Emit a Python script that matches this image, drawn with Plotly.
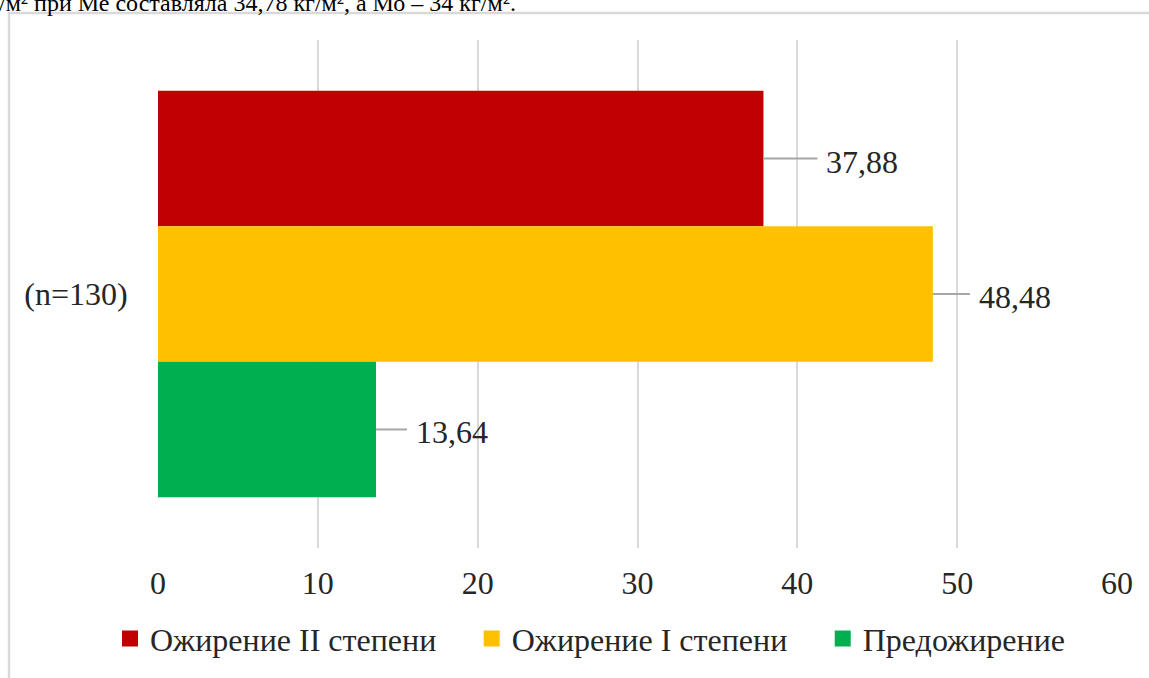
import plotly.graph_objects as go

categories = ["(n=130)"]
series_names = ["Ожирение II степени", "Ожирение I степени", "Предожирение"]
series_values = [37.88, 48.48, 13.64]
series_labels = ["37,88", "48,48", "13,64"]
series_colors = ["#C00000", "#FFC000", "#00B050"]
x_ticks = [0, 10, 20, 30, 40, 50, 60]
top_text = "/м² при Ме составляла 34,78 кг/м², а Мо – 34 кг/м²."

# leader line lengths (px) for each label (manually placed labels)
leader_px = [54, 37, 31]
legend_pad = ["\u00a0\u00a0\u00a0\u2009", "\u00a0\u00a0\u00a0\u2009", ""]

FONT = "Liberation Serif, Times New Roman, serif"
FS = 32
TXT = "#262626"
W, H = 1149, 678
L, R, T, B = 158, 32, 40, 130
plot_w = W - L - R
plot_h = H - T - B
px_per_unit = plot_w / 60.0

fig = go.Figure()
for name, val, col in zip(series_names, series_values, series_colors):
    fig.add_trace(go.Bar(
        y=categories, x=[val], name=name, orientation="h",
        marker=dict(color=col, line=dict(width=0)),
        hoverinfo="x+name", showlegend=False, legendgroup=name,
    ))
# legend entries with larger square symbols
for name, col, pad in zip(series_names, series_colors, legend_pad):
    fig.add_trace(go.Scatter(
        x=[None], y=[None], mode="markers", name=name + pad,
        marker=dict(color=col, symbol="square", size=17, line=dict(width=0)),
        legendgroup=name, showlegend=True, hoverinfo="skip",
    ))

bargap = 0.2
bw = (1 - bargap) / len(series_values)
shapes = []
annotations = []
for i, (val, lab) in enumerate(zip(series_values, series_labels)):
    yc = (i - 1) * bw
    x_end = val + leader_px[i] / px_per_unit
    shapes.append(dict(type="line", xref="x", yref="y", x0=val, x1=x_end,
                       y0=yc, y1=yc, line=dict(color="#A6A6A6", width=2)))
    annotations.append(dict(xref="x", yref="y", x=x_end + 7 / px_per_unit, y=yc,
                            text=lab, showarrow=False, xanchor="left", yanchor="middle",
                            yshift=-3,
                            font=dict(family=FONT, size=FS, color=TXT)))

# outer chart border (partially visible)
shapes.append(dict(type="rect", xref="paper", yref="paper",
                   x0=(9 - L) / plot_w, x1=(W + 20 - L) / plot_w,
                   y0=-(B + 40) / plot_h, y1=(H - B - 13) / plot_h,
                   line=dict(color="#D9D9D9", width=2.5), fillcolor="rgba(0,0,0,0)", layer="below"))

annotations.append(dict(xref="paper", yref="paper", x=(518 - L) / plot_w,
                        y=(H - B - 3) / plot_h, text=top_text, showarrow=False,
                        xanchor="right", yanchor="middle",
                        font=dict(family=FONT, size=24, color="#000000")))

fig.update_layout(
    width=W, height=H,
    margin=dict(l=L, r=R, t=T, b=B, autoexpand=False),
    paper_bgcolor="white", plot_bgcolor="white",
    barmode="group", bargap=bargap, bargroupgap=0,
    shapes=shapes, annotations=annotations,
    font=dict(family=FONT, size=FS, color=TXT),
    legend=dict(orientation="h", xref="container", yref="container",
                x=110 / W, y=0.058, xanchor="left", yanchor="middle",
                font=dict(family=FONT, size=FS, color=TXT),
                traceorder="normal", bgcolor="rgba(0,0,0,0)"),
    showlegend=True,
)
fig.update_xaxes(range=[0, 60], tickvals=x_ticks, ticktext=[str(v) for v in x_ticks],
                 showgrid=True, gridcolor="#D9D9D9", gridwidth=2,
                 zeroline=False, showline=False,
                 ticks="outside", ticklen=7, tickcolor="rgba(0,0,0,0)",
                 tickfont=dict(family=FONT, size=FS, color=TXT))
fig.update_yaxes(autorange="reversed", showgrid=False, zeroline=False, showline=False,
                 ticks="outside", ticklen=23, tickcolor="rgba(0,0,0,0)",
                 tickfont=dict(family=FONT, size=FS, color=TXT))

fig.write_html("out.html", config={"displayModeBar": False},
               post_script="document.body.style.margin='0';document.body.style.overflow='hidden';")
